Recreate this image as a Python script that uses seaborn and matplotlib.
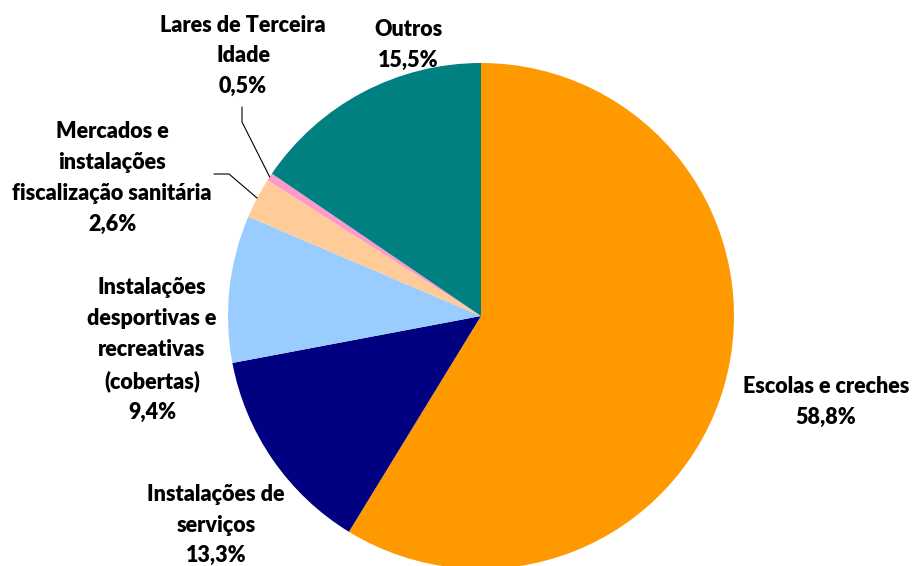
import numpy as np
import matplotlib
matplotlib.use("Agg")
import matplotlib.pyplot as plt
import seaborn as sns

categories = ["Escolas e creches", "Instalações de\nserviços",
              "Instalações\ndesportivas e\nrecreativas\n(cobertas)",
              "Mercados e\ninstalações\nfiscalização sanitária",
              "Lares de Terceira\nIdade", "Outros"]
values = [58.8, 13.3, 9.4, 2.6, 0.5, 15.5]
pct_labels = ["58,8%", "13,3%", "9,4%", "2,6%", "0,5%", "15,5%"]
colors = ["#FF9900", "#000080", "#99CCFF", "#FFCC99", "#FF99CC", "#008080"]

sns.set_theme(style="white")
plt.rcParams["font.family"] = ["Lato", "DejaVu Sans"]

W, H = 913, 566
fig = plt.figure(figsize=(W / 100, H / 100), dpi=100)
ax = fig.add_axes([0, 0, 1, 1])
ax.set_xlim(0, W)
ax.set_ylim(0, H)
ax.set_aspect("equal")
ax.axis("off")

cx, cy, r = 481, H - 316, 253
ax.pie(values, colors=colors, startangle=90, counterclock=False,
       center=(cx, cy), radius=r, wedgeprops=dict(linewidth=0))
ax.set_xlim(0, W)
ax.set_ylim(0, H)

# label positions (pixel coords, top-left origin) of the text block centers
label_pos = [(826, 402), (216, 525), (152, 350), (112, 178), (243, 56), (408, 45)]
for cat, pct, (lx, ly) in zip(categories, pct_labels, label_pos):
    ax.text(lx, H - ly, cat + "\n" + pct, ha="center", va="center",
            fontsize=15.5, fontweight="heavy", color="black", linespacing=1.58)

# leader lines for the two small slices
cum = np.cumsum([0] + values[:-1])
def edge_point(i):
    mid = cum[i] + values[i] / 2
    ang = np.deg2rad(90 - mid / sum(values) * 360)
    return cx + r * np.cos(ang), cy + r * np.sin(ang)

ex, ey = edge_point(4)
ax.plot([242, 242, ex], [H - 107, H - 122, ey], color="black", lw=0.8)
ex, ey = edge_point(3)
ax.plot([214, 229, ex], [H - 174, H - 174, ey], color="black", lw=0.8)

fig.savefig("out.png", dpi=100)
